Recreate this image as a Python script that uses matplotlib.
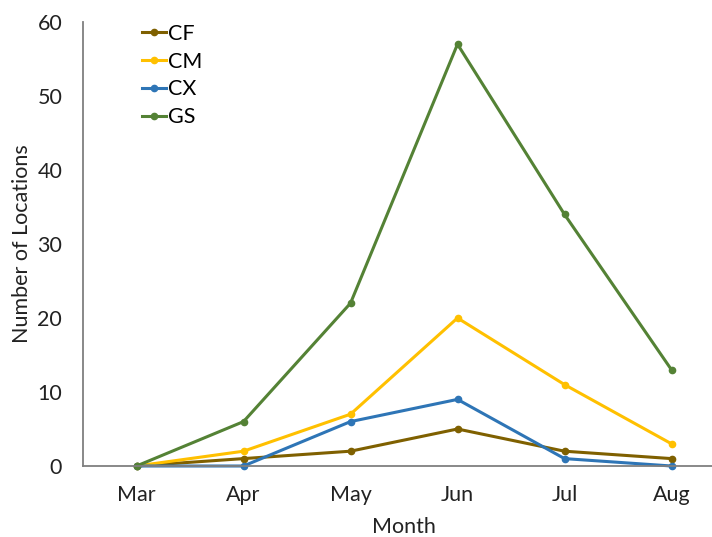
import matplotlib
matplotlib.use("Agg")
import matplotlib.pyplot as plt

months = ["Mar", "Apr", "May", "Jun", "Jul", "Aug"]
series_names = ["CF", "CM", "CX", "GS"]
cf = [0, 1, 2, 5, 2, 1]
cm = [0, 2, 7, 20, 11, 3]
cx = [0, 0, 6, 9, 1, 0]
gs = [0, 6, 22, 57, 34, 13]
colors = ["#7F6000", "#FFC000", "#2E75B6", "#548235"]

plt.rcParams['font.family'] = ['Lato', 'DejaVu Sans']

fig = plt.figure(figsize=(7.12, 5.37), dpi=100)
W, H = 712, 537
left, right, top, bottom = 83, 725, 22, 466
ax = fig.add_axes([left / W, 1 - bottom / H, (right - left) / W, (bottom - top) / H])

x = list(range(len(months)))
for name, vals, c in zip(series_names, [cf, cm, cx, gs], colors):
    ax.plot(x, vals, color=c, lw=2.2, marker='o', ms=4.5, label=name, clip_on=False)

ax.set_xlim(-0.5, 5.5)
ax.set_ylim(0, 60)
ax.set_yticks(range(0, 61, 10))
ax.set_xticks(x)
ax.set_xticklabels(months)
ax.tick_params(axis='both', length=0, labelsize=15.5, colors='#222222')
ax.tick_params(axis='x', pad=14)
ax.tick_params(axis='y', pad=15)
for s in ['top', 'right']:
    ax.spines[s].set_visible(False)
for s in ['left', 'bottom']:
    ax.spines[s].set_color('#7f7f7f')
    ax.spines[s].set_linewidth(1.3)

ax.set_xlabel("Month", fontsize=15.5, color='#222222', labelpad=8)
ax.set_ylabel("Number of Locations", fontsize=15.5, color='#222222', labelpad=4)

leg = ax.legend(loc='upper left', bbox_to_anchor=(0.078, 1.015), frameon=False,
                fontsize=15.5, handlelength=1.15, handletextpad=0.08, labelspacing=0.36,
                borderaxespad=0)

fig.savefig("out.png", dpi=100)
